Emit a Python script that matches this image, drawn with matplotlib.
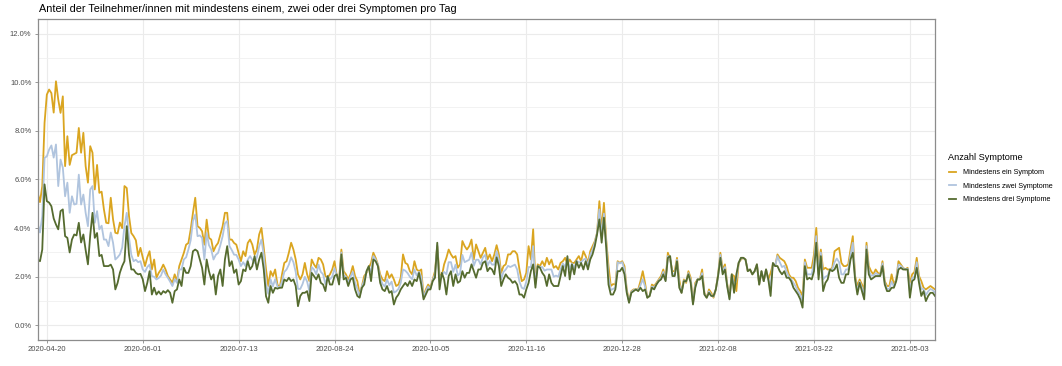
import numpy as np
import pandas as pd
import matplotlib
matplotlib.use("Agg")
import matplotlib.pyplot as plt
import matplotlib.dates as mdates
from matplotlib.ticker import FuncFormatter, MultipleLocator

# ─────────────────────────────────────────────
#  DATA  (share of participants in %, daily)
# ─────────────────────────────────────────────
START_DATE = "2020-04-16"

ein = [
    5.45, 5.07, 5.73, 8.33, 9.49, 9.70, 9.55, 8.75, 10.04, 9.29,
    8.74, 9.42, 6.55, 7.78, 6.60, 7.00, 7.05, 7.10, 8.12, 7.10,
    7.92, 6.55, 5.87, 7.37, 7.10, 5.59, 6.60, 5.45, 5.50, 4.77,
    4.22, 4.20, 5.25, 4.36, 3.81, 3.78, 4.23, 4.00, 5.73, 5.65,
    4.49, 3.80, 3.67, 3.50, 2.85, 3.19, 2.80, 2.44, 2.80, 3.05, 2.30,
    2.71, 1.96, 2.16, 2.30, 2.50, 2.30, 2.03, 1.89, 1.75, 2.10,
    1.82, 2.44, 2.71, 2.98, 3.32, 3.39, 3.94, 4.63, 5.25, 4.08,
    4.01, 3.87, 3.32, 4.35, 3.60, 3.53, 3.05, 3.26, 3.39, 3.74,
    4.08, 4.63, 4.63, 3.53, 3.53, 3.39, 3.32, 2.98, 2.64, 3.05,
    2.85, 3.39, 3.53, 3.32, 2.91, 3.12, 3.74, 4.01, 3.20, 2.30,
    1.62, 2.23, 2.03, 2.30, 1.68, 1.55, 2.10, 2.57, 2.64, 2.99,
    3.40, 3.12, 2.71, 2.10, 1.89, 2.10, 2.57, 2.10, 1.82, 2.71,
    2.51, 2.37, 2.78, 2.71, 2.51, 2.03, 1.96, 2.10, 2.30, 2.64,
    2.03, 1.89, 3.12, 2.23, 2.10, 1.89, 2.10, 2.44, 2.03, 1.82,
    1.27, 1.62, 2.03, 2.16, 2.37, 2.57, 2.99, 2.78, 2.51, 2.10, 1.89,
    1.82, 2.23, 1.95, 2.10, 1.89, 1.62, 1.68, 1.96, 2.92, 2.57,
    2.51, 2.23, 2.10, 2.64, 2.30, 2.23, 2.30, 1.21, 1.48, 1.68,
    1.55, 1.89, 2.23, 3.26, 2.10, 2.03, 2.51, 2.78, 3.12, 2.92,
    2.78, 2.85, 2.37, 2.51, 3.47, 3.26, 3.12, 3.26, 3.53, 2.71,
    3.33, 3.05, 2.78, 2.99, 3.19, 2.71, 2.92, 2.64, 2.92, 3.30,
    2.92, 2.16, 2.44, 2.51, 2.92, 2.92, 3.05, 3.05, 2.92, 2.30,
    1.82, 1.89, 2.16, 3.26, 2.71, 3.95, 1.82, 2.51, 2.44, 2.64,
    2.44, 2.78, 2.51, 2.71, 2.37, 2.44, 2.30, 2.57, 2.64, 2.78,
    2.51, 2.71, 2.57, 2.57, 2.71, 2.85, 2.64, 3.05, 2.85, 2.57,
    3.05, 3.26, 3.46, 3.81, 5.11, 3.95, 5.04, 3.53, 2.44, 1.62, 1.70,
    1.68, 2.64, 2.57, 2.64, 2.44, 1.48, 1.00, 1.41, 1.48, 1.48,
    1.48, 1.82, 2.23, 1.75, 1.14, 1.21, 1.68, 1.62, 1.75, 1.89,
    2.03, 2.30, 1.89, 2.99, 2.71, 2.23, 2.23, 2.78, 1.89, 1.34,
    1.89, 1.75, 2.23, 1.96, 0.93, 1.75, 1.89, 1.89, 2.30, 1.34,
    1.14, 1.48, 1.34, 1.14, 1.48, 2.10, 2.99, 2.30, 2.51, 1.70,
    1.21, 2.10, 2.03, 1.41, 2.57, 2.71, 2.78, 2.71, 2.23, 2.30,
    2.10, 2.23, 2.51, 1.68, 2.23, 1.82, 2.30, 1.89, 2.16, 2.51,
    2.44, 2.92, 2.78, 2.71, 2.64, 2.44, 2.10, 1.96, 1.96, 1.82,
    1.55, 1.41, 1.21, 2.71, 2.37, 2.37, 2.37, 2.92, 4.01, 2.44,
    3.12, 2.30, 2.37, 2.30, 2.30, 2.37, 3.05, 3.12, 3.19, 2.57, 2.44,
    2.44, 2.51, 3.12, 3.67, 2.03, 1.62, 1.89, 1.68, 1.48, 3.40,
    2.44, 2.23, 2.10, 2.30, 2.16, 2.10, 2.64, 1.82, 1.62, 1.62,
    2.10, 1.68, 1.89, 2.64, 2.51, 2.37, 2.30, 2.37, 1.75, 2.10,
    2.20, 2.78, 2.03, 1.82, 1.55, 1.48, 1.55, 1.62, 1.55, 1.48,
]

zwei = [
    4.19, 3.82, 4.49, 6.89, 6.95, 7.23, 7.40, 6.90, 7.44, 5.73,
    6.82, 6.49, 5.31, 5.87, 4.63, 5.31, 4.97, 5.00, 6.20, 4.97,
    5.38, 4.63, 4.08, 5.59, 5.73, 4.22, 4.70, 3.95, 4.10, 3.53,
    3.53, 3.26, 3.82, 3.40, 2.71, 2.80, 2.92, 3.20, 4.08, 4.63,
    3.60, 2.90, 2.64, 2.70, 2.60, 2.64, 2.30, 2.20, 2.40, 2.50, 2.03,
    2.00, 1.89, 1.95, 2.05, 2.30, 2.10, 1.96, 1.80, 1.62, 1.90,
    1.75, 2.30, 2.30, 2.71, 2.80, 3.12, 3.50, 4.29, 4.56, 3.67,
    3.70, 3.60, 2.71, 3.80, 3.30, 3.12, 2.71, 2.90, 2.98, 3.30,
    3.67, 4.20, 4.29, 3.26, 3.10, 2.91, 2.90, 2.71, 2.44, 2.60,
    2.44, 2.70, 2.85, 2.70, 2.57, 2.80, 3.26, 3.53, 2.90, 1.70,
    1.30, 1.90, 1.60, 1.90, 1.60, 1.55, 1.80, 2.20, 2.30, 2.50,
    2.80, 2.60, 2.20, 1.50, 1.50, 1.70, 2.00, 1.80, 1.40, 2.40,
    2.30, 2.10, 2.50, 2.20, 2.10, 1.70, 2.00, 1.90, 2.00, 2.35,
    2.05, 1.80, 3.00, 2.05, 2.00, 1.75, 2.00, 2.20, 1.75, 1.50,
    1.20, 1.60, 1.85, 2.20, 2.40, 2.20, 2.85, 2.70, 2.50, 1.95, 1.70,
    1.60, 1.90, 1.65, 1.80, 1.35, 1.40, 1.50, 1.75, 2.30, 2.25,
    2.15, 2.00, 1.90, 2.30, 2.05, 2.20, 2.00, 1.15, 1.40, 1.60,
    1.50, 1.85, 2.10, 3.30, 1.80, 2.10, 2.20, 2.10, 2.60, 2.60,
    2.20, 2.50, 2.05, 2.15, 2.90, 2.60, 2.65, 2.70, 3.00, 2.45,
    2.70, 2.70, 2.50, 2.80, 2.90, 2.45, 2.65, 2.50, 2.50, 3.05,
    2.70, 1.90, 2.20, 2.30, 2.45, 2.40, 2.45, 2.50, 2.30, 1.80,
    1.55, 1.50, 1.80, 2.40, 2.40, 3.26, 1.70, 2.45, 2.40, 2.40,
    2.25, 2.30, 2.30, 2.30, 2.00, 2.05, 2.00, 2.30, 2.55, 2.40,
    2.75, 2.30, 2.55, 2.35, 2.65, 2.60, 2.60, 2.70, 2.75, 2.45,
    2.90, 3.10, 3.40, 3.80, 4.77, 3.70, 4.60, 3.40, 2.00, 1.45, 1.50,
    1.55, 2.60, 2.55, 2.60, 2.30, 1.40, 0.95, 1.38, 1.45, 1.48,
    1.45, 1.65, 1.90, 1.60, 1.14, 1.21, 1.60, 1.55, 1.70, 1.85,
    1.95, 2.20, 1.85, 2.85, 2.75, 2.10, 2.10, 2.70, 1.70, 1.34,
    1.85, 1.80, 2.15, 1.85, 0.90, 1.65, 1.89, 1.89, 2.15, 1.30,
    1.14, 1.40, 1.25, 1.18, 1.48, 2.05, 2.90, 2.20, 2.40, 1.65,
    1.10, 2.10, 1.60, 1.90, 2.57, 2.75, 2.78, 2.71, 2.23, 2.30,
    2.10, 2.23, 2.51, 1.68, 2.23, 1.82, 2.30, 1.89, 1.60, 2.55,
    2.44, 2.85, 2.60, 2.40, 2.45, 2.20, 2.00, 1.90, 1.75, 1.60,
    1.40, 1.25, 1.00, 2.60, 2.10, 2.10, 2.10, 2.60, 3.67, 2.10,
    3.00, 1.90, 2.00, 2.05, 2.30, 2.30, 2.60, 2.75, 2.60, 2.10, 2.10,
    2.30, 2.30, 2.90, 3.40, 1.95, 1.40, 1.80, 1.55, 1.20, 3.26,
    2.25, 2.05, 2.05, 2.15, 2.10, 2.05, 2.55, 1.75, 1.50, 1.50,
    1.80, 1.60, 1.85, 2.50, 2.45, 2.35, 2.30, 2.33, 1.40, 1.95,
    2.00, 2.60, 1.90, 1.50, 1.50, 1.25, 1.40, 1.50, 1.45, 1.35,
]

drei = [
    2.71, 2.64, 3.12, 5.80, 5.11, 5.05, 4.90, 4.40, 4.15, 3.95,
    4.70, 4.77, 3.67, 3.60, 3.00, 3.53, 3.74, 3.70, 4.22, 3.41,
    3.74, 3.10, 2.51, 3.70, 4.63, 3.60, 3.80, 2.85, 2.90, 2.44,
    2.44, 2.44, 2.50, 2.30, 1.48, 1.75, 2.17, 2.44, 2.64, 4.08,
    2.90, 2.30, 2.30, 2.16, 2.10, 2.12, 1.90, 1.41, 1.75, 2.23, 1.27,
    1.55, 1.27, 1.40, 1.27, 1.41, 1.34, 1.45, 1.34, 0.93, 1.41,
    1.48, 1.89, 1.62, 2.37, 2.16, 2.16, 2.44, 3.05, 3.12, 3.05,
    2.71, 2.37, 1.68, 2.71, 2.23, 1.89, 2.10, 1.27, 2.03, 2.30,
    1.62, 2.71, 3.26, 2.44, 2.64, 2.16, 2.30, 1.68, 1.82, 2.30,
    2.23, 2.64, 2.30, 2.44, 2.85, 2.30, 2.71, 2.99, 2.30, 1.20,
    0.93, 1.62, 1.34, 1.55, 1.51, 1.55, 1.55, 1.89, 1.82, 1.96,
    1.82, 1.89, 1.62, 0.79, 1.21, 1.34, 1.34, 1.41, 1.00, 2.16,
    2.03, 1.89, 2.10, 1.75, 1.68, 1.41, 2.03, 1.68, 1.68, 2.03,
    2.10, 1.68, 2.92, 1.89, 1.96, 1.62, 1.89, 1.96, 1.48, 1.21,
    1.14, 1.55, 1.68, 2.23, 2.44, 1.82, 2.71, 2.64, 2.44, 1.75, 1.48,
    1.41, 1.62, 1.34, 1.41, 0.86, 1.14, 1.27, 1.48, 1.62, 1.75,
    1.62, 1.82, 1.62, 1.89, 1.82, 2.16, 1.68, 1.07, 1.27, 1.48,
    1.48, 1.82, 1.96, 3.40, 1.48, 2.16, 1.89, 1.27, 2.03, 2.23,
    1.62, 2.10, 1.75, 1.82, 2.23, 1.96, 2.16, 2.16, 2.51, 2.23,
    1.96, 2.30, 2.30, 2.57, 2.64, 2.23, 2.37, 2.30, 2.10, 2.80,
    2.44, 1.62, 1.89, 2.10, 1.96, 1.89, 1.75, 1.82, 1.68, 1.27,
    1.27, 1.14, 1.48, 1.75, 2.23, 2.51, 1.55, 2.44, 2.37, 2.16,
    2.03, 1.62, 2.10, 1.75, 1.62, 1.62, 1.62, 2.03, 2.44, 2.03,
    2.85, 1.89, 2.51, 2.10, 2.64, 2.37, 2.57, 2.30, 2.64, 2.30,
    2.71, 2.92, 3.26, 3.75, 4.36, 3.40, 4.43, 3.19, 1.68, 1.27, 1.27,
    1.48, 2.23, 2.23, 2.37, 2.10, 1.34, 0.93, 1.34, 1.41, 1.48,
    1.41, 1.55, 1.41, 1.48, 1.14, 1.21, 1.55, 1.48, 1.68, 1.82,
    1.89, 2.10, 1.82, 2.78, 2.85, 2.03, 2.03, 2.64, 1.55, 1.34,
    1.82, 1.82, 2.10, 1.75, 0.86, 1.55, 1.89, 1.89, 2.03, 1.27,
    1.14, 1.34, 1.21, 1.21, 1.48, 2.03, 2.78, 2.10, 2.30, 1.60,
    1.07, 2.10, 1.34, 2.10, 2.57, 2.78, 2.78, 2.71, 2.23, 2.30,
    2.10, 2.23, 2.51, 1.68, 2.23, 1.82, 2.30, 1.89, 1.21, 2.57,
    2.44, 2.44, 2.23, 2.10, 2.23, 1.96, 1.96, 1.82, 1.55, 1.41,
    1.27, 1.07, 0.73, 2.44, 1.89, 1.96, 1.89, 2.23, 3.40, 1.89,
    2.85, 1.41, 1.75, 1.89, 2.30, 2.23, 2.30, 2.51, 1.96, 1.75, 1.75,
    2.10, 2.10, 2.71, 2.99, 1.89, 1.27, 1.75, 1.41, 1.07, 3.12,
    2.10, 1.89, 1.96, 2.03, 2.03, 2.03, 2.44, 1.68, 1.41, 1.41,
    1.55, 1.55, 1.82, 2.30, 2.37, 2.30, 2.30, 2.30, 1.14, 1.82,
    1.90, 2.37, 1.75, 1.21, 1.41, 1.00, 1.21, 1.34, 1.34, 1.21,
]

SERIES_LABELS = ["Mindestens ein Symptom", "Mindestens zwei Symptome",
                 "Mindestens drei Symptome"]
SERIES_COLORS = ["#DAA520", "#B0C4DE", "#556B2F"]   # goldenrod / lightsteelblue / darkolivegreen

TICK_START = "2020-04-20"
N_TICKS    = 10     # every 6 weeks

dates = pd.date_range(START_DATE, periods=len(ein), freq="D")

# ─────────────────────────────────────────────
#  Figure
# ─────────────────────────────────────────────
plt.rcParams["font.family"] = ["Liberation Sans", "DejaVu Sans"]

fig = plt.figure(figsize=(10.62, 3.66), dpi=100, facecolor="white")
ax  = fig.add_axes([37.7 / 1062, 26 / 366, 897.3 / 1062, 321 / 366])

for vals, lbl, col in zip([ein, zwei, drei], SERIES_LABELS, SERIES_COLORS):
    ax.plot(dates, vals, color=col, lw=1.3, label=lbl, solid_joinstyle="round")

ax.set_xlim(dates[0], dates[-1])
ax.set_ylim(-0.6, 12.6)

# y axis
ax.yaxis.set_major_locator(MultipleLocator(2))
ax.yaxis.set_minor_locator(MultipleLocator(1))
ax.yaxis.set_major_formatter(FuncFormatter(lambda v, _: f"{v:.1f}%"))

# x axis
ticks = pd.date_range(TICK_START, periods=N_TICKS, freq="42D")
ax.set_xticks(ticks)
ax.xaxis.set_major_formatter(mdates.DateFormatter("%Y-%m-%d"))

ax.grid(which="major", color="#EBEBEB", lw=0.8)
ax.grid(which="minor", axis="y", color="#F0F0F0", lw=0.6)
ax.set_axisbelow(True)

ax.tick_params(which="major", length=2.5, width=0.6, color="#888888",
               labelsize=5.5, labelcolor="#4D4D4D", pad=2)
ax.tick_params(which="minor", length=0)
for sp in ax.spines.values():
    sp.set_edgecolor("#8C8C8C")
    sp.set_linewidth(0.9)

fig.text(39 / 1062, 1 - 9 / 366,
         "Anteil der Teilnehmer/innen mit mindestens einem, zwei oder drei Symptomen pro Tag",
         ha="left", va="center", fontsize=7.8, color="black")

leg = fig.legend(loc="upper left", bbox_to_anchor=(942 / 1062, 1 - 147 / 366),
                 frameon=False, fontsize=5.2, title="Anzahl Symptome",
                 title_fontsize=6.6, handlelength=1.1, handletextpad=0.9,
                 labelspacing=0.9, alignment="left")
for line in leg.get_lines():
    line.set_linewidth(1.3)

fig.savefig("out.png", dpi=100, facecolor="white")
plt.close()
